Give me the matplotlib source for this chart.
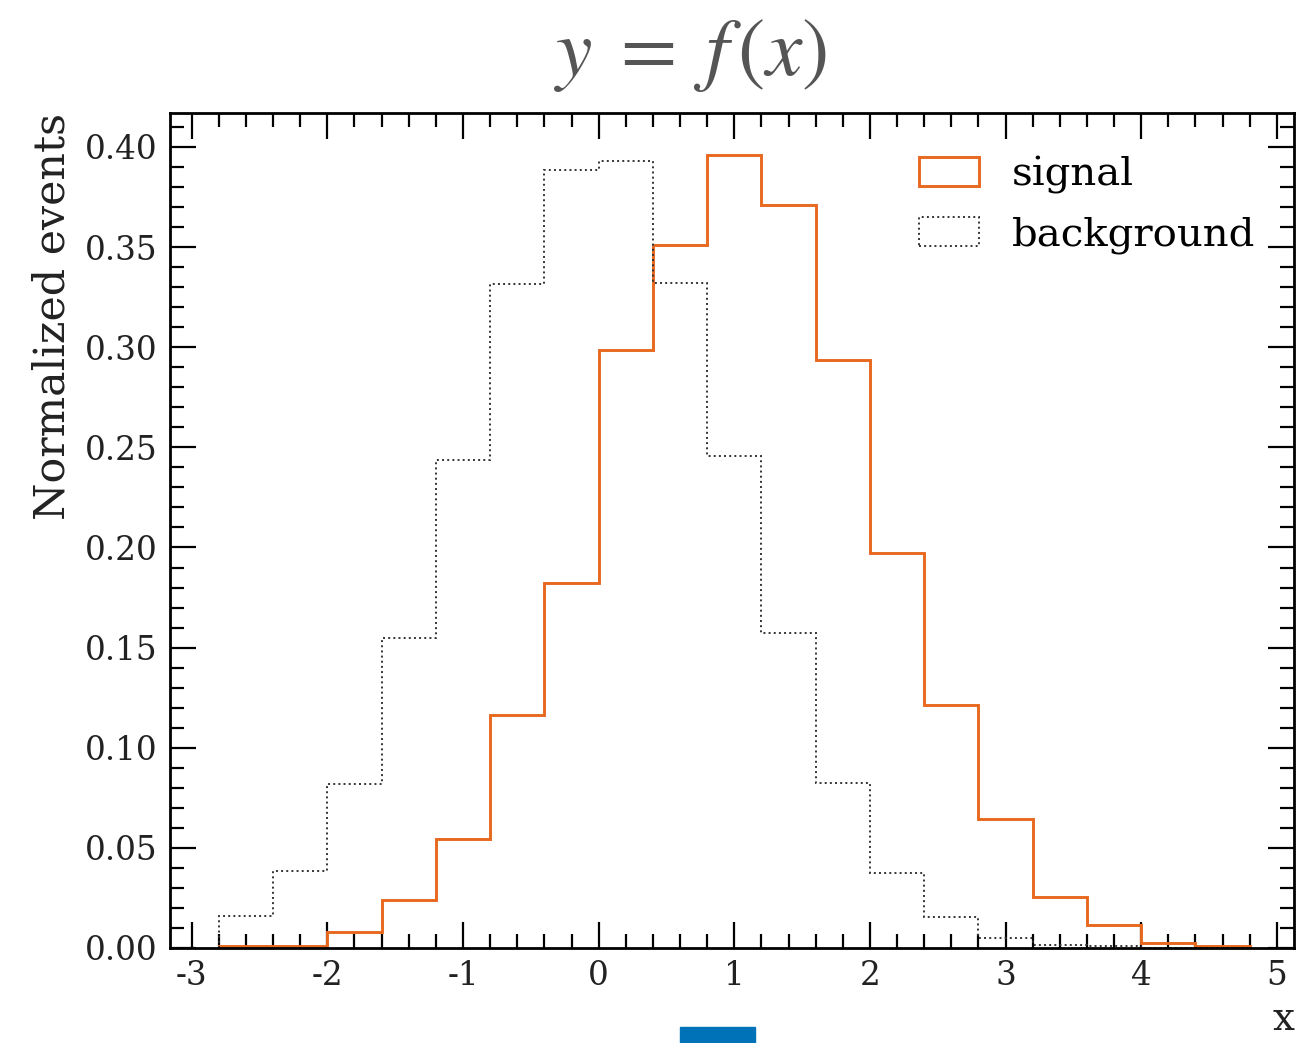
import numpy as np
import matplotlib
matplotlib.use('Agg')
import matplotlib.pyplot as plt
from matplotlib.ticker import MultipleLocator
from matplotlib.patches import Rectangle

# bin edges shared by both histograms
edges = [-2.8, -2.4, -2.0, -1.6, -1.2, -0.8, -0.4, 0.0, 0.4, 0.8,
         1.2, 1.6, 2.0, 2.4, 2.8, 3.2, 3.6, 4.0, 4.4, 4.8]

# normalized heights
signal = [0.001, 0.001, 0.008, 0.024, 0.0545, 0.1165, 0.1825, 0.2985, 0.351, 0.396,
          0.371, 0.2935, 0.197, 0.1215, 0.0645, 0.0255, 0.0115, 0.0025, 0.001]
background = [0.016, 0.0385, 0.082, 0.155, 0.2435, 0.3315, 0.3885, 0.393, 0.332, 0.2455,
              0.1575, 0.0825, 0.0375, 0.0155, 0.005, 0.0015, 0.001, 0.0, 0.0]

xticks = [-3, -2, -1, 0, 1, 2, 3, 4, 5]
xticklabels = ['-3', '-2', '-1', '0', '1', '2', '3', '4', '5']

plt.rcParams['font.family'] = 'DejaVu Serif'
plt.rcParams['mathtext.fontset'] = 'stix'

fig = plt.figure(figsize=(12.97, 10.43), dpi=100)
ax = fig.add_axes([0.1311, 0.0911, 0.8669, 0.8006])

centers = np.array(edges[:-1]) + 0.2
ax.hist(centers, bins=edges, weights=signal, histtype='step',
        color='#e8691e', lw=2.1, label='signal')
ax.hist(centers, bins=edges, weights=background, histtype='step',
        color='#333333', lw=1.4, ls=':', label='background')

ax.set_xlim(-3.16, 5.13)
ax.set_ylim(0, 0.417)
ax.set_xticks(xticks)
ax.set_xticklabels(xticklabels)
ax.yaxis.set_major_locator(MultipleLocator(0.05))
ax.yaxis.set_major_formatter(plt.FormatStrFormatter('%.2f'))
ax.xaxis.set_minor_locator(MultipleLocator(0.2))
ax.yaxis.set_minor_locator(MultipleLocator(0.01))

ax.tick_params(which='both', direction='in', top=True, right=True,
               labelsize=23.5, labelcolor='#222222', width=1.6)
ax.tick_params(which='major', length=19, pad=9)
ax.tick_params(which='minor', length=10)
for s in ax.spines.values():
    s.set_linewidth(2.0)

ax.set_ylabel('Normalized events', fontsize=30.8, loc='top', color='#222222', labelpad=8)
ax.set_xlabel('x', fontsize=28, loc='right', color='#222222', labelpad=6)
fig.text(0.532, 0.948, r'$y\;=\;f\,(x)$', fontsize=59, color='#555555',
         ha='center', va='center')

ax.legend(loc='upper right', frameon=False, fontsize=29, handlelength=1.5,
          handleheight=0.72, handletextpad=0.8, borderaxespad=0.3,
          labelspacing=0.55, bbox_to_anchor=(0.99, 0.982))

# stray blue block below the axis
fig.patches.append(Rectangle((680 / 1297, 0), 75 / 1297, 16 / 1043,
                             transform=fig.transFigure, color='#0072b8'))

fig.savefig('out.png', dpi=100)
